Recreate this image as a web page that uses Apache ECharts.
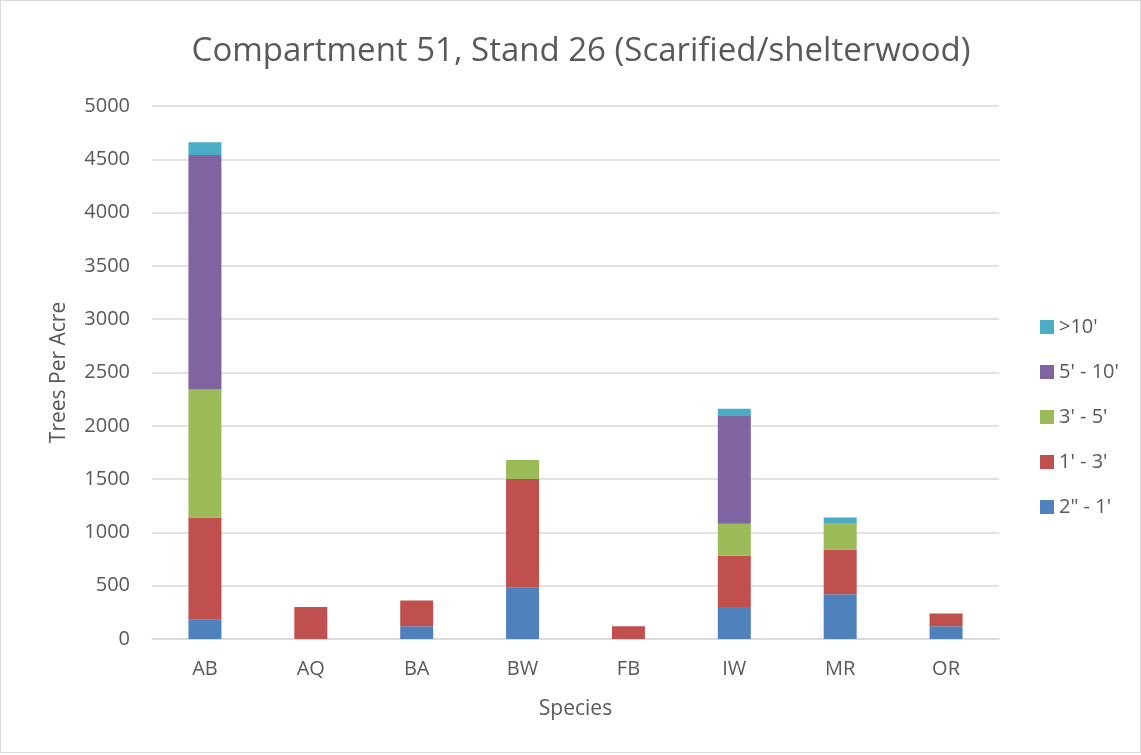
<!DOCTYPE html>
<html>
<head>
<meta charset="utf-8">
<script src="https://cdn.jsdelivr.net/npm/echarts@6/dist/echarts.min.js"></script>
<style>
html, body { margin: 0; padding: 0; background: #fff; }
#chart { width: 1139px; height: 751px; border: 1px solid #d9d9d9; }
</style>
</head>
<body>
<div id="chart"></div>
<script>
// species on the x axis
const species = ['AB', 'AQ', 'BA', 'BW', 'FB', 'IW', 'MR', 'OR'];

// trees per acre by height class
const h2in1ft = [180, 0, 120, 480, 0, 300, 420, 120];
const h1to3 = [960, 300, 240, 1020, 120, 480, 420, 120];
const h3to5 = [1200, 0, 0, 180, 0, 300, 240, 0];
const h5to10 = [2200, 0, 0, 0, 0, 1020, 0, 0];
const hOver10 = [120, 0, 0, 0, 0, 60, 60, 0];

const classNames = ['2" - 1\'', "1' - 3'", "3' - 5'", "5' - 10'", ">10'"];
const classData = [h2in1ft, h1to3, h3to5, h5to10, hOver10];
const colors = ['#4F81BD', '#C0504D', '#9BBB59', '#8064A2', '#4BACC6'];

const font = '"Open Sans", sans-serif';
const txt = '#595959';

const chart = echarts.init(document.getElementById('chart'));

chart.setOption({
    animation: false,
    color: colors,
    title: {
        text: 'Compartment 51, Stand 26 (Scarified/shelterwood)',
        left: 575,
        top: 29,
        textAlign: 'center',
        textStyle: { fontFamily: font, fontSize: 33, fontWeight: 'normal', color: txt }
    },
    legend: {
        orient: 'vertical',
        left: 1034,
        top: 311,
        itemWidth: 14,
        itemHeight: 14,
        itemGap: 25,
        icon: 'rect',
        data: classNames.slice().reverse(),
        textStyle: { fontFamily: font, fontSize: 20, color: txt }
    },
    grid: {
        left: 151,
        right: 141,
        top: 105,
        bottom: 113
    },
    xAxis: {
        type: 'category',
        data: species,
        name: 'Species',
        nameLocation: 'middle',
        nameGap: 60,
        nameTextStyle: { fontFamily: font, fontSize: 21, color: txt },
        axisLine: { lineStyle: { color: '#d9d9d9', width: 1.5 } },
        axisTick: { show: false },
        axisLabel: { fontFamily: font, fontSize: 20, color: txt, margin: 20 }
    },
    yAxis: {
        type: 'value',
        min: 0,
        max: 5000,
        interval: 500,
        name: 'Trees Per Acre',
        nameLocation: 'middle',
        nameGap: 82,
        nameTextStyle: { fontFamily: font, fontSize: 21, color: txt },
        axisLabel: { fontFamily: font, fontSize: 20, color: txt, margin: 22, formatter: v => String(v) },
        splitLine: { lineStyle: { color: '#d9d9d9', width: 1.5 } }
    },
    series: classNames.map((name, i) => ({
        name: name,
        type: 'bar',
        stack: 'total',
        barWidth: 33,
        data: classData[i]
    }))
});
</script>
</body>
</html>
